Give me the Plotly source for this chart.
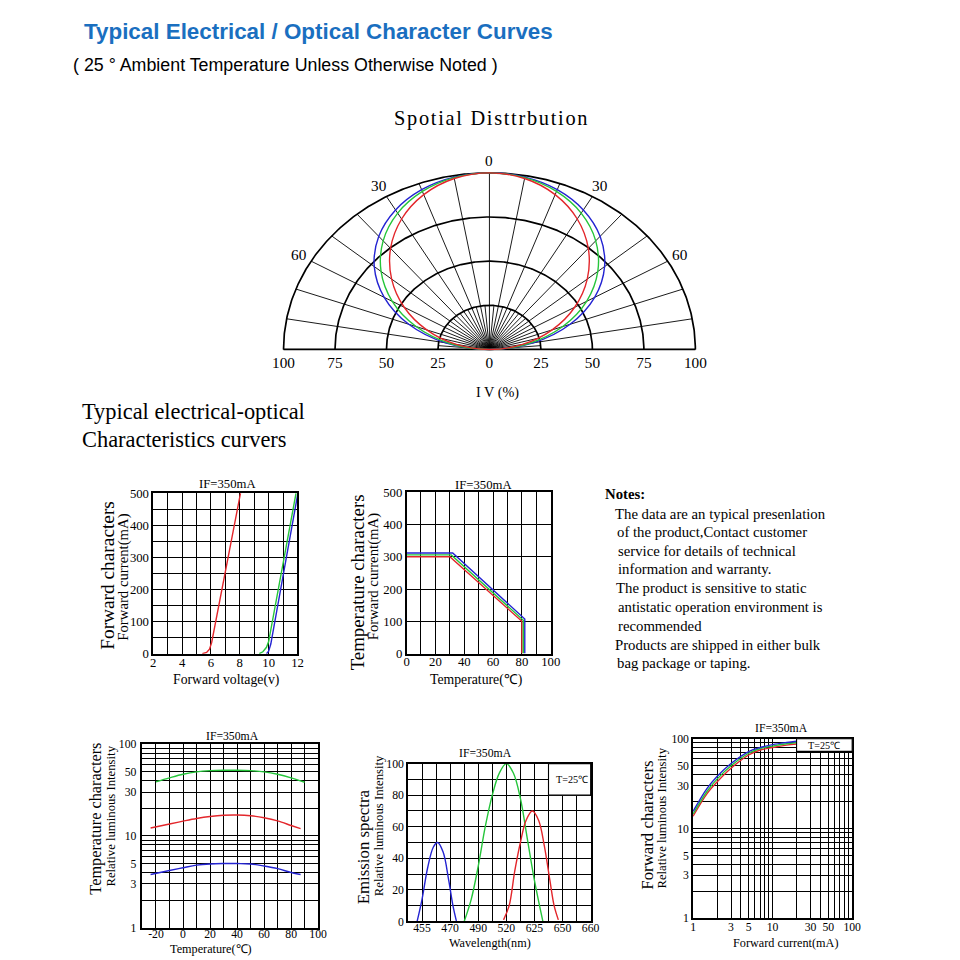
import numpy as np
import plotly.graph_objects as go

RED = '#e3262b'
GREEN = '#25c53a'
BLUE = '#2424d2'
SERIF = 'Liberation Serif, Times New Roman, serif'
SANS = 'Liberation Sans, Arial, sans-serif'

# ---------------- data ----------------
# Spatial distribution (relative intensity %, vs angle in degrees)
polar_angles = [-90, -80, -70, -60, -50, -40, -30, -20, -10, 0, 10, 20, 30, 40, 50, 60, 70, 80, 90]
iv_blue = [0, 21.6, 41.7, 59.0, 73.0, 83.6, 91.2, 96.3, 99.1, 100, 99.1, 96.3, 91.2, 83.6, 73.0, 59.0, 41.7, 21.6, 0]
iv_green = [0, 19.4, 37.9, 54.5, 68.7, 80.3, 89.1, 95.2, 98.8, 100, 98.8, 95.2, 89.1, 80.3, 68.7, 54.5, 37.9, 19.4, 0]
iv_red = [0, 16.4, 32.4, 47.8, 62.0, 74.7, 85.3, 93.3, 98.3, 100, 98.3, 93.3, 85.3, 74.7, 62.0, 47.8, 32.4, 16.4, 0]
polar_rings = [25, 50, 75, 100]
polar_ticks = [-100, -75, -50, -25, 0, 25, 50, 75, 100]
polar_ticktext = ['100', '75', '50', '25', '0', '25', '50', '75', '100']
polar_angle_labels = [-60, -30, 0, 30, 60]
polar_angle_text = ['60', '30', '0', '30', '60']

# Forward characters: voltage (V) vs current (mA)
fv_red_v = [5.4, 5.7, 5.9, 6.05, 8.05]
fv_red_i = [0, 4, 14, 35, 500]
fv_green_v = [9.35, 9.6, 9.85, 10.0, 11.9]
fv_green_i = [0, 6, 20, 38, 500]
fv_blue_v = [9.85, 10.0, 10.15, 12.03]
fv_blue_i = [0, 8, 30, 500]

# Temperature characters: temperature vs forward current
td_red_t = [0, 30, 80, 80]
td_red_i = [300, 300, 100, 0]
td_green_t = [0, 31, 81, 81]
td_green_i = [306, 306, 103, 0]
td_blue_t = [0, 32, 82, 82]
td_blue_i = [312, 312, 107, 0]

# Temperature characters: temperature vs relative luminous intensity
tl_red_t = [-24, -10, 0, 10, 20, 30, 40, 50, 60, 70, 80, 87]
tl_red = [12.2, 13.5, 14.5, 15.5, 16.3, 16.8, 16.9, 16.6, 15.8, 14.6, 13.0, 12.0]
tl_green_t = [-20, -10, 0, 10, 20, 30, 40, 50, 60, 70, 80, 90]
tl_green = [39, 43, 47, 50, 51.5, 52, 52, 51.5, 50, 47, 43, 38.5]
tl_blue_t = [-24, -10, 0, 10, 20, 30, 40, 50, 60, 70, 80, 87]
tl_blue = [3.8, 4.2, 4.5, 4.8, 4.95, 5.0, 5.0, 4.95, 4.7, 4.4, 4.0, 3.8]

# Emission spectra (x in grid positions of the wavelength axis)
wl_tick_pos = [1, 3, 5, 7, 9, 11, 13]
wl_tick_text = ['455', '470', '490', '520', '625', '650', '660']
sp_blue_x = [0.65, 1.0, 1.4, 1.8, 2.1, 2.5, 2.9, 3.2, 3.45]
sp_blue_y = [0, 14, 34, 47, 50, 44, 26, 10, 0]
sp_green_x = [4.0, 4.5, 5.0, 5.5, 6.0, 6.5, 7.0, 7.5, 8.0, 8.5, 9.0, 9.6]
sp_green_y = [0, 14, 35, 60, 80, 94, 100, 94, 78, 52, 26, 0]
sp_red_x = [6.8, 7.2, 7.6, 8.0, 8.4, 8.85, 9.3, 9.7, 10.1, 10.4, 10.7]
sp_red_y = [1, 10, 32, 50, 64, 70, 64, 48, 26, 10, 1]

# Forward characters: forward current vs relative luminous intensity
fc_i = [1, 1.5, 2, 3, 5, 7, 10, 15, 20]
fc_blue = [15.5, 28, 38, 53, 72, 80, 86, 91, 94]
fc_green = [14.5, 26, 35.5, 50, 69, 78, 83, 88, 91]
fc_red = [13.7, 24.5, 33, 47, 66, 75, 80, 85, 87.5]

log_grid = [1, 2, 3, 4, 5, 6, 7, 8, 9, 10, 20, 30, 40, 50, 60, 70, 80, 90, 100]
log_labels = [1, 3, 5, 10, 30, 50, 100]

notes_lines = [
    ('The data are an typical presenlation', 612.7, 513),
    ('of the product,Contact customer', 615.5, 531.5),
    ('service for details of technical', 616, 550),
    ('information and warranty.', 616.5, 568.5),
    ('The product is sensitive to static', 614, 587.5),
    ('antistatic operation environment is', 616, 606),
    ('recommended', 616.5, 624.5),
    ('Products are shipped in either bulk', 613, 643.5),
    ('bag package or taping.', 615.5, 662),
]

# page geometry (maps reference pixels to figure fractions)
W = 960
C = 16.0
S = 0.982


def fx(px):
    return (px - C) / S / W


def fy(py):
    return 1 - (py - C) / S / W


def dom_x(a, b):
    return [fx(a), fx(b)]


def dom_y(top, bottom):
    return [fy(bottom), fy(top)]


def F(size):
    return size / S


fig = go.Figure()

# polar geometry in reference pixels
PCX, PCY = 489.3, 349.3
PSX, PSY = 2.063, 1.76

# ---------------- polar-like spatial distribution ----------------
th = np.radians(np.linspace(-90, 90, 361))
rx, ry = [], []
for r in polar_rings:
    rx += list(r * np.sin(th)) + [None]
    ry += list(r * np.cos(th)) + [None]
fig.add_trace(go.Scatter(x=rx, y=ry, mode='lines', line=dict(color='black', width=1.7),
                         hoverinfo='skip', xaxis='x', yaxis='y'))
lx, ly = [], []
for a in range(-90, 91, 10):
    t = np.radians(a)
    lx += [0, 100 * np.sin(t), None]
    ly += [0, 100 * np.cos(t), None]
for a in range(-85, 90, 10):
    t = np.radians(a)
    lx += [0, 25 * np.sin(t), None]
    ly += [0, 25 * np.cos(t), None]
fig.add_trace(go.Scatter(x=lx, y=ly, mode='lines', line=dict(color='black', width=0.9),
                         hoverinfo='skip', xaxis='x', yaxis='y'))
fig.add_trace(go.Scatter(x=[-100, 100], y=[0, 0], mode='lines', line=dict(color='black', width=1.7),
                         hoverinfo='skip', xaxis='x', yaxis='y'))
pa = np.radians(polar_angles)
for vals, col in [(iv_blue, BLUE), (iv_green, GREEN), (iv_red, RED)]:
    v = np.array(vals)
    fig.add_trace(go.Scatter(x=v * np.sin(pa), y=v * np.cos(pa), mode='lines',
                             line=dict(color=col, width=1.4, shape='spline', smoothing=1.0),
                             xaxis='x', yaxis='y'))

# ---------------- subplot 1: forward V-I ----------------
for xv, yv, col in [(fv_red_v, fv_red_i, RED), (fv_green_v, fv_green_i, GREEN), (fv_blue_v, fv_blue_i, BLUE)]:
    fig.add_trace(go.Scatter(x=xv, y=yv, mode='lines', line=dict(color=col, width=1.4),
                             xaxis='x2', yaxis='y2'))

# ---------------- subplot 2: temperature derating ----------------
for xv, yv, col in [(td_red_t, td_red_i, RED), (td_green_t, td_green_i, GREEN), (td_blue_t, td_blue_i, BLUE)]:
    fig.add_trace(go.Scatter(x=xv, y=yv, mode='lines', line=dict(color=col, width=1.4),
                             xaxis='x3', yaxis='y3'))

# ---------------- subplot 3: temperature vs luminous ----------------
for xv, yv, col in [(tl_green_t, tl_green, GREEN), (tl_red_t, tl_red, RED), (tl_blue_t, tl_blue, BLUE)]:
    fig.add_trace(go.Scatter(x=xv, y=yv, mode='lines', line=dict(color=col, width=1.4, shape='spline'),
                             xaxis='x4', yaxis='y4'))

# ---------------- subplot 4: emission spectra ----------------
for xv, yv, col in [(sp_blue_x, sp_blue_y, BLUE), (sp_green_x, sp_green_y, GREEN), (sp_red_x, sp_red_y, RED)]:
    fig.add_trace(go.Scatter(x=xv, y=yv, mode='lines', line=dict(color=col, width=1.4, shape='spline'),
                             xaxis='x5', yaxis='y5'))

# ---------------- subplot 5: forward current vs luminous ----------------
for yv, col in [(fc_red, RED), (fc_green, GREEN), (fc_blue, BLUE)]:
    fig.add_trace(go.Scatter(x=fc_i, y=yv, mode='lines', line=dict(color=col, width=1.4, shape='spline'),
                             xaxis='x6', yaxis='y6'))


# ---------------- axes ----------------
def ax(**kw):
    d = dict(showline=True, mirror=True, linecolor='black', linewidth=1.5,
             showgrid=True, gridcolor='black', gridwidth=1.1, zeroline=False,
             ticks='', tickfont=dict(family=SERIF, size=F(12.5), color='black'), fixedrange=True)
    d.update(kw)
    return d


def lab(vals, every, start=None):
    out = []
    for v in vals:
        ok = (v % every == 0) and (start is None or v >= start)
        out.append(str(v) if ok else '')
    return out


small = dict(family=SERIF, size=F(11.5), color='black')

xr = list(range(2, 13))
yr1 = list(range(0, 501, 50))
xr3 = list(range(0, 101, 10))
yr3 = list(range(0, 501, 100))
xr4 = list(range(-30, 101, 10))
yr5 = list(range(0, 101, 10))
log_text = [str(v) if v in log_labels else '' for v in log_grid]

layout_axes = dict(
    xaxis=dict(domain=dom_x(PCX - 101 * PSX, PCX + 101 * PSX), range=[-101, 101], showgrid=False,
               zeroline=False, showline=False, ticks='', tickvals=polar_ticks, ticktext=polar_ticktext,
               tickfont=dict(family=SERIF, size=F(15), color='black'), anchor='y', fixedrange=True),
    yaxis=dict(domain=dom_y(PCY - 101 * PSY, PCY + 1 * PSY), range=[-1, 101], visible=False, anchor='x',
               fixedrange=True),
    xaxis2=ax(domain=dom_x(152.5, 297), range=[2, 12], tickvals=xr, ticktext=lab(xr, 2), anchor='y2',
              ticklabelstandoff=-4),
    yaxis2=ax(domain=dom_y(492.5, 652.5), range=[0, 500], tickvals=yr1, ticktext=lab(yr1, 100), anchor='x2'),
    xaxis3=ax(domain=dom_x(406.3, 550.7), range=[0, 100], tickvals=xr3, ticktext=lab(xr3, 20), anchor='y3',
              ticklabelstandoff=-5),
    yaxis3=ax(domain=dom_y(491.7, 652.3), range=[0, 500], tickvals=yr3, ticktext=lab(yr3, 100), anchor='x3'),
    xaxis4=ax(domain=dom_x(141.7, 317.7), range=[-30, 100], tickvals=xr4, ticktext=lab(xr4, 20, -20),
              anchor='y4', tickfont=small, ticklabelstandoff=-5),
    yaxis4=ax(domain=dom_y(742.7, 925.5), type='log', range=[0, 2], tickvals=log_grid,
              ticktext=log_text, anchor='x4', tickfont=small, ticklabelstandoff=2),
    xaxis5=ax(domain=dom_x(407.7, 590.7), range=[0, 13], tickvals=wl_tick_pos, ticktext=wl_tick_text,
              anchor='y5', tickfont=small, showgrid=False, ticklabelstandoff=-5,
              minor=dict(tickvals=list(range(0, 14)), showgrid=True, gridcolor='black', gridwidth=1.1, ticks='')),
    yaxis5=ax(domain=dom_y(762, 919.3), range=[0, 100], tickvals=yr5, ticktext=lab(yr5, 20), anchor='x5',
              tickfont=small),
    xaxis6=ax(domain=dom_x(693.3, 852.7), type='log', range=[0, 2], tickvals=log_grid,
              ticktext=log_text, anchor='y6', tickfont=small, ticklabelstandoff=-3),
    yaxis6=ax(domain=dom_y(737.3, 916), type='log', range=[0, 2], tickvals=log_grid,
              ticktext=log_text, anchor='x6', tickfont=small),
)

ann = []


def text(t, x, y, size, family=SERIF, color='black', xanchor='center', angle=0, bold=False):
    if bold:
        t = '<b>' + t + '</b>'
    ann.append(dict(text=t, x=fx(x), y=fy(y), xref='paper', yref='paper', showarrow=False,
                    xanchor=xanchor, yanchor='middle', textangle=angle,
                    font=dict(family=family, size=F(size), color=color)))


text('Typical Electrical / Optical Character Curves', 81, 32, 22, family=SANS, color='#1a6fc0',
     xanchor='left', bold=True)
text('( 25 ° Ambient Temperature Unless Otherwise Noted )', 70, 66, 17.5, family=SANS, xanchor='left')
text('\u200a'.join('Spotial Disttrbution'), 490, 119, 20)
text('I V (%)', 497, 392, 14)
text('Typical electrical-optical', 79, 411, 22, xanchor='left')
text('Characteristics curvers', 79, 439, 22, xanchor='left')

for a, t in zip(polar_angle_labels, polar_angle_text):
    r = 107
    px = PCX + r * np.sin(np.radians(a)) * PSX
    py = PCY - r * np.cos(np.radians(a)) * PSY
    text(t, px, py, 15)

# subplot 1
text('IF=350mA', 227, 483, 12.5)
text('Forward characters', 107, 574, 19, angle=-90)
text('Forward current(mA)', 123, 576, 14.5, angle=-90)
text('Forward voltage(v)', 225, 679, 13.5)
# subplot 2
text('IF=350mA', 483, 484, 12.5)
text('Temperature characters', 358, 581, 18.5, angle=-90)
text('Forward current(mA)', 374, 576, 14.5, angle=-90)
text('Temperature(℃)', 476, 679, 13.5)
# notes
text('Notes:', 603, 493, 14.5, xanchor='left', bold=True)
for t, x, y in notes_lines:
    text(t, x, y, 14.5, xanchor='left')
# subplot 3
text('IF=350mA', 232, 735, 11.5)
text('Temperature characters', 95, 817, 16, angle=-90)
text('Relative luminous Intensity', 110, 814, 12.5, angle=-90)
text('Temperature(℃)', 210, 947, 12)
# subplot 4
text('IF=350mA', 485, 752, 11.5)
text('Emission spectra', 364, 845, 16.5, angle=-90)
text('Relative luminous Intensity', 378, 824, 12.5, angle=-90)
text('Wavelength(nm)', 490, 941, 12)
# subplot 5
text('IF=350mA', 782, 727, 11.5)
text('Forward characters', 648, 823, 16.5, angle=-90)
text('Relative luminous Intensity', 662, 816, 12.5, angle=-90)
text('Forward current(mA)', 786, 941, 12)

# T=25 boxes
shapes = [
    dict(type='rect', xref='x5 domain', yref='y5 domain', x0=10 / 13, x1=1, y0=0.8, y1=1,
         fillcolor='white', line=dict(color='black', width=1.1), layer='above'),
    dict(type='rect', xref='x6 domain', yref='y6 domain', x0=np.log10(20) / 2, x1=1, y0=0.93, y1=1,
         fillcolor='white', line=dict(color='black', width=1.1), layer='above'),
]
ann.append(dict(text='T=25℃', x=0.9, y=0.898, xref='x5 domain', yref='y5 domain', showarrow=False,
                xanchor='center', yanchor='middle', font=dict(family=SERIF, size=F(10), color='black')))
ann.append(dict(text='T=25℃', x=0.82, y=0.964, xref='x6 domain', yref='y6 domain', showarrow=False,
                xanchor='center', yanchor='middle', font=dict(family=SERIF, size=F(10), color='black')))

fig.update_layout(width=W, height=W, margin=dict(l=0, r=0, t=0, b=0),
                  paper_bgcolor='white', plot_bgcolor='white', showlegend=False,
                  annotations=ann, shapes=shapes, **layout_axes)

fig.write_html('out.html')
